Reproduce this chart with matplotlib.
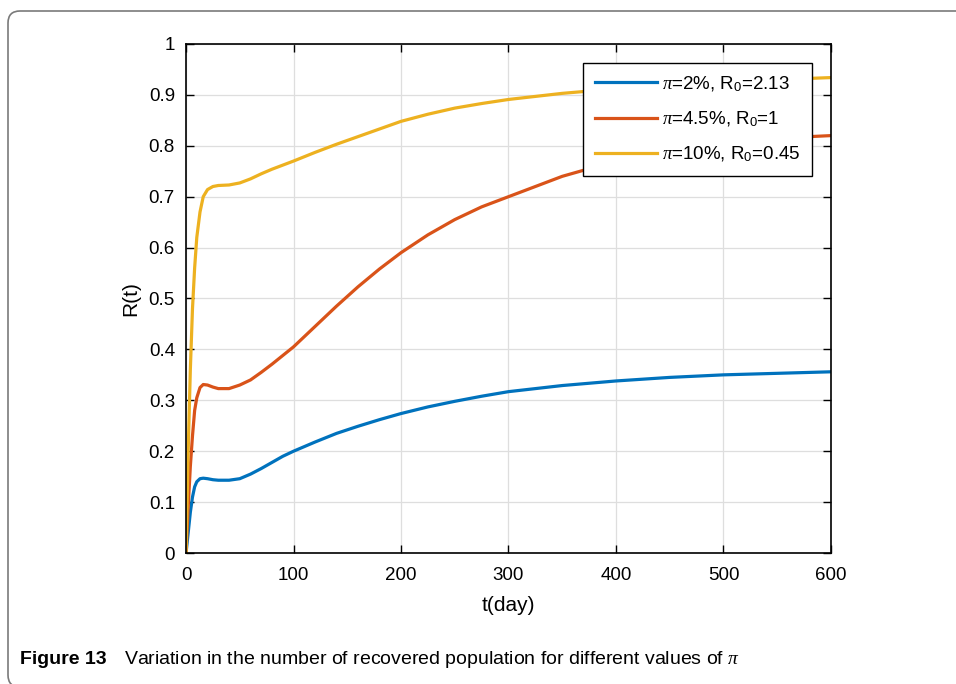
import numpy as np
import matplotlib.pyplot as plt
from matplotlib.patches import FancyBboxPatch
from matplotlib.transforms import IdentityTransform

plt.rcParams['font.family'] = ['Liberation Sans', 'DejaVu Sans']
plt.rcParams['mathtext.fontset'] = 'custom'
plt.rcParams['mathtext.rm'] = 'Liberation Sans'
plt.rcParams['mathtext.it'] = 'Liberation Serif:italic'

t = [0, 2, 4, 6, 8, 10, 13, 16, 20, 25, 30, 40, 50, 60, 70, 80, 90, 100,
     120, 140, 160, 180, 200, 225, 250, 275, 300, 350, 400, 450, 500, 550, 600]
r_pi2 = [0, 0.04, 0.08, 0.11, 0.13, 0.14, 0.146, 0.147, 0.146, 0.144, 0.143, 0.143,
         0.146, 0.155, 0.166, 0.178, 0.19, 0.2, 0.218, 0.235, 0.249, 0.262, 0.274,
         0.287, 0.298, 0.308, 0.317, 0.329, 0.338, 0.345, 0.35, 0.353, 0.356]
r_pi45 = [0, 0.09, 0.17, 0.23, 0.28, 0.305, 0.325, 0.331, 0.33, 0.326, 0.323, 0.323,
          0.33, 0.34, 0.355, 0.371, 0.388, 0.405, 0.445, 0.485, 0.523, 0.558, 0.59,
          0.625, 0.655, 0.68, 0.70, 0.74, 0.77, 0.79, 0.805, 0.815, 0.82]
r_pi10 = [0, 0.2, 0.36, 0.48, 0.56, 0.62, 0.67, 0.70, 0.714, 0.72, 0.722, 0.723,
          0.727, 0.735, 0.745, 0.754, 0.762, 0.77, 0.787, 0.803, 0.818, 0.833, 0.848,
          0.862, 0.874, 0.883, 0.891, 0.903, 0.912, 0.919, 0.925, 0.93, 0.934]
labels = [r'$\pi$=2%, R$_0$=2.13', r'$\pi$=4.5%, R$_0$=1', r'$\pi$=10%, R$_0$=0.45']
colors = ['#0072BD', '#D95319', '#EDB120']

fig = plt.figure(figsize=(9.56, 6.84), dpi=100)
ax = fig.add_axes([0.1946, 0.1915, 0.6746, 0.7442])

for r, lab, c in zip([r_pi2, r_pi45, r_pi10], labels, colors):
    ax.plot(t, r, color=c, lw=2.3, label=lab)

ax.set_xlim(0, 600)
ax.set_ylim(0, 1)
ax.set_xticks(np.arange(0, 601, 100))
ax.set_yticks(np.arange(0, 1.01, 0.1))
ax.set_yticklabels(['0', '0.1', '0.2', '0.3', '0.4', '0.5', '0.6', '0.7', '0.8', '0.9', '1'])
ax.grid(True, color='#dedede', lw=0.9)
ax.tick_params(direction='in', top=True, right=True, labelsize=13.5, length=6, width=1)
ax.tick_params(axis='x', pad=10)
ax.tick_params(axis='y', pad=8)
for s in ax.spines.values():
    s.set_linewidth(1.2)
ax.set_xlabel('t(day)', fontsize=15, labelpad=9)
ax.set_ylabel('R(t)', fontsize=15, labelpad=6)

leg = ax.legend(loc='upper right', bbox_to_anchor=(0.9705, 0.9627), borderaxespad=0,
                fancybox=False, framealpha=1, edgecolor='black', fontsize=13.5,
                handlelength=3.3, handletextpad=0.3, labelspacing=0.85,
                borderpad=0.6)
leg.get_frame().set_linewidth(1.0)

frame = FancyBboxPatch((8, -3), 1000, 676, boxstyle='round,pad=0,rounding_size=12',
                       transform=IdentityTransform(), fill=False, edgecolor='#7a7a7a', lw=1.2)
fig.patches.append(frame)

fig.text(20 / 956, 1 - 660 / 684, 'Figure 13', fontsize=14, fontweight='bold',
         va='center')
fig.text(124 / 956, 1 - 660 / 684,
         r'Variation in the number of recovered population for different values of $\pi$',
         fontsize=14, va='center')

fig.savefig('out.png', dpi=100)
